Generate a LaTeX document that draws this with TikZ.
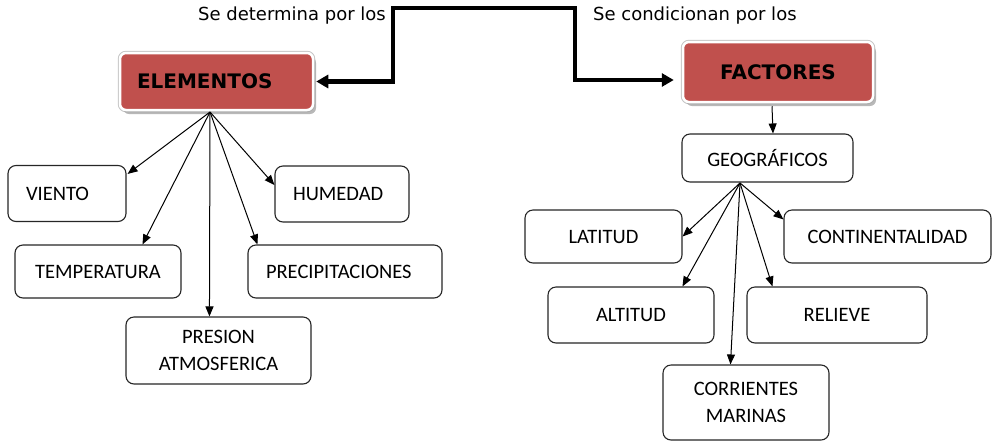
\documentclass[tikz,border=0pt]{standalone}
\usepackage{fontspec}
\setmainfont{Carlito}
\newfontfamily\verd{DejaVu Sans}
\usetikzlibrary{arrows.meta,calc,shadows}
\definecolor{boxred}{HTML}{C0504D}
\tikzset{
  redbox/.style={rectangle, rounded corners=6pt, fill=boxred, draw=white, line width=2.5pt,
    preaction={draw=gray!45, line width=4.5pt},
    drop shadow={shadow xshift=3pt, shadow yshift=-4pt, fill=gray!70, opacity=0.8},
    font=\verd\bfseries\fontsize{20}{24}\selectfont, inner ysep=0pt, anchor=center},
  leafbox/.style={rectangle, rounded corners=8pt, draw=black!85, line width=1.1pt, fill=white,
    font=\fontsize{20.5}{27}\selectfont, inner ysep=0pt, inner xsep=18pt, anchor=center},
  lbl/.style={font=\verd\fontsize{18}{22}\selectfont, inner sep=0pt},
  thin arrow/.style={line width=1pt, -{Triangle[length=10pt,width=8pt]}},
  thick arrow/.style={line width=4.5pt, {Triangle[length=12pt,width=13pt]}-{Triangle[length=12pt,width=13pt]}}
}
\begin{document}
\begin{tikzpicture}[x=1pt,y=-1pt]
\useasboundingbox (0,0) rectangle (992,445);

% header boxes
\node[redbox, minimum width=193pt, minimum height=57pt, text width=159pt, align=left] (EL) at (216.5,81.5) {ELEMENTOS};
\node[redbox, minimum width=190pt, minimum height=60pt, text width=160pt, align=center] (FA) at (778,72) {FACTORES};

% labels
\node[lbl, anchor=east] (l1) at (386,16) {Se determina por los};
\node[lbl, anchor=west] (l2) at (593,16) {Se condicionan por los};

% thick connector
\coordinate (topL) at (393,8);
\coordinate (topR) at (575,8);
\coordinate (ftip) at ($(FA.west)+(-8,8)$);
\draw[thick arrow] ($(EL.east)+(2,0)$) -| (topL) -- (topR) |- (ftip);

% left children
\node[leafbox, minimum height=56pt, text width=82pt, align=left] (VI) at (67,193.5) {VIENTO};
\node[leafbox, minimum height=56pt, text width=98pt, align=left] (HU) at (342,194) {HUMEDAD};
\node[leafbox, minimum height=53pt, text width=130pt, align=center] (TE) at (98,271.5) {TEMPERATURA};
\node[leafbox, minimum height=53pt, text width=158pt, align=left] (PR) at (345,271.5) {PRECIPITACIONES};
\node[leafbox, minimum height=67pt, text width=149pt, align=center] (PA) at (218.5,350.5) {PRESION\\ATMOSFERICA};

\coordinate (es) at (210,112);
\draw[thin arrow] (es) -- ($(VI.north east)+(1,9)$);
\draw[thin arrow] (es) -- ($(TE.north west)+(128,0)$);
\draw[thin arrow] (es) -- ($(PA.north west)+(84,0)$);
\draw[thin arrow] (es) -- ($(PR.north west)+(10,0)$);
\draw[thin arrow] (es) -- ($(HU.west)+(0,-9)$);

% right children
\node[leafbox, minimum width=171pt, minimum height=48pt, text width=135pt, align=center] (GE) at (767.5,158) {GEOGRÁFICOS};
\node[leafbox, minimum width=157pt, minimum height=53pt, text width=121pt, align=center] (LA) at (603.5,236.5) {LATITUD};
\node[leafbox, minimum width=207pt, minimum height=53pt, text width=171pt, align=center] (CO) at (887.5,236.5) {CONTINENTALIDAD};
\node[leafbox, minimum width=166pt, minimum height=56pt, text width=130pt, align=center] (AL) at (631,315) {ALTITUD};
\node[leafbox, minimum width=180pt, minimum height=56pt, text width=144pt, align=center] (RE) at (837,315) {RELIEVE};
\node[leafbox, minimum width=166pt, minimum height=75pt, text width=130pt, align=center] (CM) at (746,402.5) {CORRIENTES\\MARINAS};

\draw[thin arrow] ($(FA.south)+(-6,3)$) -- ($(GE.north)+(5.5,0)$);

\coordinate (gs) at (740,183);
\draw[thin arrow] (gs) -- (LA.east);
\draw[thin arrow] (gs) -- ($(CO.north west)+(0,10)$);
\draw[thin arrow] (gs) -- ($(AL.north west)+(135,0)$);
\draw[thin arrow] (gs) -- ($(RE.north west)+(26,0)$);
\draw[thin arrow] (gs) -- ($(CM.north west)+(68,0)$);
\end{tikzpicture}
\end{document}
